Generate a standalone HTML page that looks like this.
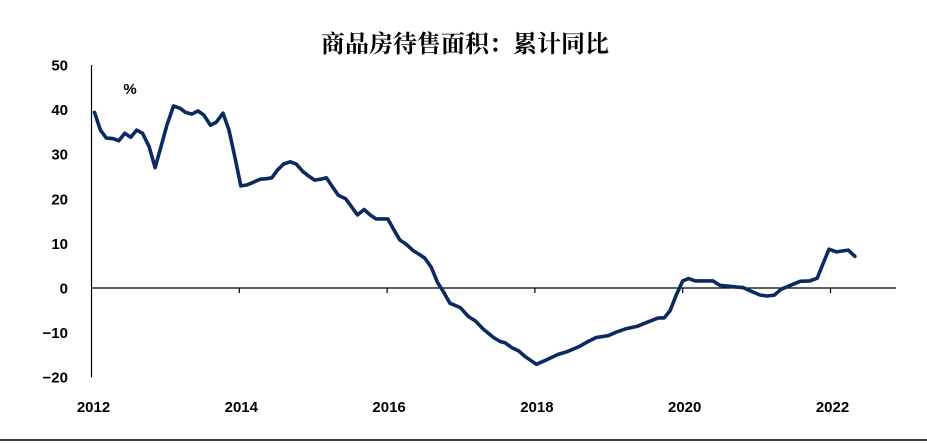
<!DOCTYPE html>
<html><head><meta charset="utf-8"><style>
html,body{margin:0;padding:0;background:#fff;}
svg{display:block;}
</style></head><body>
<svg id="chart" width="927" height="444" viewBox="0 0 927 444" xmlns="http://www.w3.org/2000/svg">
<text x="465" y="52" text-anchor="middle" font-family="'Liberation Serif','Noto Serif CJK SC',serif" font-weight="bold" font-size="24" fill="#000">商品房待售面积：累计同比</text>
<text x="130" y="94" text-anchor="middle" font-family="'Liberation Sans',sans-serif" font-weight="bold" font-size="15" fill="#000">%</text>
<g id="axes"></g>
<g id="series"></g>
<line x1="0" y1="440" x2="927" y2="440" stroke="#000" stroke-width="1.5"/>
</svg>
<script>
const dates = [2012.04,2012.12,2012.2,2012.29,2012.37,2012.45,2012.53,2012.61,2012.69,2012.78,2012.86,2012.94,2013.02,2013.11,2013.2,2013.27,2013.36,2013.44,2013.52,2013.61,2013.69,2013.78,2013.86,2013.94,2014.02,2014.1,2014.19,2014.28,2014.37,2014.44,2014.52,2014.6,2014.69,2014.77,2014.86,2014.93,2015.02,2015.1,2015.18,2015.26,2015.34,2015.44,2015.52,2015.6,2015.69,2015.77,2015.85,2016.01,2016.08,2016.17,2016.26,2016.35,2016.44,2016.51,2016.6,2016.68,2016.76,2016.85,2016.99,2017.1,2017.19,2017.3,2017.44,2017.53,2017.6,2017.69,2017.78,2017.87,2018.02,2018.16,2018.31,2018.43,2018.59,2018.72,2018.83,2018.99,2019.1,2019.24,2019.38,2019.53,2019.67,2019.75,2019.83,2019.91,2020.0,2020.08,2020.17,2020.41,2020.5,2020.57,2020.73,2020.82,2020.91,2021.05,2021.14,2021.24,2021.33,2021.43,2021.59,2021.72,2021.82,2021.9,2021.98,2022.08,2022.24,2022.33];
const values = [39.4,35.4,33.6,33.5,33.0,34.7,33.8,35.4,34.7,31.7,27.0,31.7,36.5,40.8,40.3,39.4,39.0,39.7,38.8,36.5,37.2,39.2,35.4,29.3,22.9,23.1,23.7,24.4,24.5,24.7,26.5,27.8,28.3,27.8,26.1,25.2,24.2,24.4,24.7,22.7,20.8,20.0,18.2,16.4,17.6,16.4,15.5,15.5,13.4,10.8,9.8,8.4,7.5,6.7,4.6,1.3,-0.8,-3.4,-4.4,-6.4,-7.3,-9.2,-11.1,-12.0,-12.3,-13.4,-14.1,-15.4,-17.1,-16.1,-14.9,-14.3,-13.2,-12.0,-11.1,-10.7,-9.9,-9.1,-8.6,-7.6,-6.7,-6.7,-5.1,-1.7,1.6,2.1,1.6,1.6,0.6,0.5,0.2,0.1,-0.6,-1.6,-1.8,-1.6,-0.3,0.4,1.5,1.6,2.2,5.5,8.7,8.1,8.5,7.1];
const yTicks = [50,40,30,20,10,0,-10,-20];
const yTickLabels = ["50","40","30","20","10","0","\u221210","\u221220"];
const xTicks = [2012,2014,2016,2018,2020,2022];
const xTickLabels = ["2012","2014","2016","2018","2020","2022"];

const NS = "http://www.w3.org/2000/svg";
function xs(v){ return 91.5 + (v - 2012) * 73.9; }
function ys(v){ return 288 - v * 4.46; }
function mk(tag, attrs, parent){
  const e = document.createElementNS(NS, tag);
  for (const k in attrs) e.setAttribute(k, attrs[k]);
  parent.appendChild(e);
  return e;
}
const axes = document.getElementById('axes');
const yAxis = mk('line', {x1:91.5, y1:ys(50), x2:91.5, y2:ys(-20), stroke:'#000', 'stroke-width':1.2}, axes);


const zero = mk('line', {x1:91.5, y1:ys(0), x2:896, y2:ys(0), stroke:'#000', 'stroke-width':1.2}, axes);


yTicks.forEach((t, i) => {
  const tx = mk('text', {x:68, y:ys(t) + 5.5, 'text-anchor':'end', 'font-family':"'Liberation Sans',sans-serif", 'font-weight':'bold', 'font-size':15, fill:'#000'}, axes);
  tx.textContent = yTickLabels[i];
  
  
});
xTicks.forEach((t, i) => {
  if (i > 0) {
    const tk = mk('line', {x1:xs(t), y1:ys(0), x2:xs(t), y2:ys(0) + 5, stroke:'#000', 'stroke-width':1.2}, axes);
    
    
  }
  const tx = mk('text', {x:xs(t) + 2, y:412, 'text-anchor':'middle', 'font-family':"'Liberation Sans',sans-serif", 'font-weight':'bold', 'font-size':15, fill:'#000'}, axes);
  tx.textContent = xTickLabels[i];
  
  
});
const series = document.getElementById('series');
const d = dates.map((dt, i) => (i ? 'L' : 'M') + xs(dt).toFixed(1) + ' ' + ys(values[i]).toFixed(1)).join(' ');
const path = mk('path', {d:d, fill:'none', stroke:'#0b2a5f', 'stroke-width':3.6, 'stroke-linejoin':'round', 'stroke-linecap':'round'}, series);


</script>
</body></html>
